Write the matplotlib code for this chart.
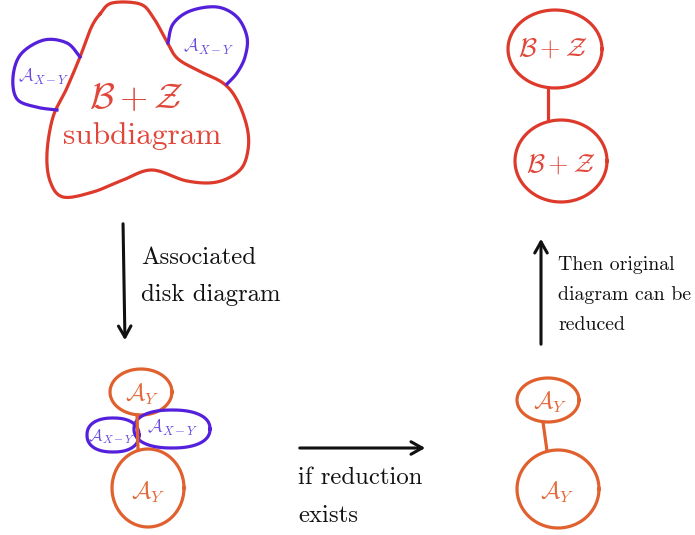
import numpy as np
import matplotlib
matplotlib.use("Agg")
import matplotlib.pyplot as plt

plt.rcParams['mathtext.fontset'] = 'cm'

RED = '#dd3a2c'
RED_T = '#e0463a'
BLUE = '#5520dc'
BLUE_T = '#6a4ae0'
ORANGE = '#e0602e'
ORANGE_T = '#e26a3a'
BLACK = '#111111'

# outline control points (pixel coordinates, y down)
big_blob = [(100, 14), (112, 3), (140, 4), (153, 17), (166, 40), (177, 58), (197, 70),
            (223, 83), (237, 100), (247, 127), (248, 150), (240, 170), (217, 182),
            (187, 181), (152, 170), (123, 180), (93, 192), (63, 197), (50, 181),
            (47, 153), (53, 117), (66, 90), (80, 57), (91, 28)]
blue_left = [(80, 57), (67, 43), (44, 40), (21, 54), (13, 77), (17, 99), (36, 107), (57, 110)]
blue_right = [(168, 43), (173, 24), (190, 11), (217, 7), (237, 17), (247, 37), (245, 57),
              (237, 73), (227, 84)]

ellipses_red = [(555, 49, 47, 39), (561, 161, 46, 41)]
ellipses_orange = [(141, 392, 31, 23), (148, 488, 36, 39), (548, 400, 31, 22), (558, 489, 41, 39)]
blue_ovals = [(113, 435, 26, 17), (172, 429, 38, 19)]

B_Z = r'$\mathcal{B}+\mathcal{Z}$'
A_XY = r'$\mathcal{A}_{X-Y}$'
A_Y = r'$\mathcal{A}_Y$'
text_assoc = ['Associated', 'disk diagram']
text_reduce = ['if reduction', 'exists']
text_then = ['Then original', 'diagram can be', 'reduced']


def catmull(points, closed=True, n=20):
    p = np.array(points, dtype=float)
    if closed:
        p = np.vstack([p[-1], p, p[0], p[1]])
    else:
        p = np.vstack([p[0], p, p[-1]])
    out = []
    for i in range(1, len(p) - 2):
        p0, p1, p2, p3 = p[i - 1], p[i], p[i + 1], p[i + 2]
        t = np.linspace(0, 1, n, endpoint=False)[:, None]
        seg = 0.5 * ((2 * p1) + (-p0 + p2) * t + (2 * p0 - 5 * p1 + 4 * p2 - p3) * t ** 2
                     + (-p0 + 3 * p1 - 3 * p2 + p3) * t ** 3)
        out.append(seg)
    out.append(p[-2][None, :] if not closed else p[1][None, :])
    return np.vstack(out)


def ellipse(cx, cy, rx, ry, power=2.0):
    th = np.linspace(0, 2 * np.pi, 300)
    cs, sn = np.cos(th), np.sin(th)
    e = 2.0 / power
    return cx + rx * np.sign(cs) * np.abs(cs) ** e, cy + ry * np.sign(sn) * np.abs(sn) ** e


fig = plt.figure(figsize=(6.95, 5.35), dpi=100)
ax = fig.add_axes([0, 0, 1, 1])
ax.set_xlim(0, 695)
ax.set_ylim(535, 0)
ax.axis('off')

lw = 2.3
c = catmull(big_blob)
ax.plot(c[:, 0], c[:, 1], color=RED, lw=lw)
c = catmull(blue_left, closed=False)
ax.plot(c[:, 0], c[:, 1], color=BLUE, lw=lw)
c = catmull(blue_right, closed=False)
ax.plot(c[:, 0], c[:, 1], color=BLUE, lw=lw)

for e in ellipses_red:
    x, y = ellipse(*e)
    ax.plot(x, y, color=RED, lw=lw)
for e in ellipses_orange:
    x, y = ellipse(*e)
    ax.plot(x, y, color=ORANGE, lw=lw)
for e in blue_ovals:
    x, y = ellipse(*e, power=2.3)
    ax.plot(x, y, color=BLUE, lw=lw)

# connectors
ax.plot([548, 548], [88, 121], color=RED, lw=lw)
ax.plot([543, 547], [422, 451], color=ORANGE, lw=lw)
ax.plot([137, 138], [415, 449], color=ORANGE, lw=lw, zorder=3)

# labels
ax.text(136, 98, B_Z, color=RED_T, fontsize=26, ha='center', va='center')
ax.text(142, 136, 'subdiagram', color=RED_T, fontsize=22.5, ha='center', va='center', family='cmr10')
ax.text(44, 77, A_XY, color=BLUE_T, fontsize=13, ha='center', va='center')
ax.text(209, 47, A_XY, color=BLUE_T, fontsize=13, ha='center', va='center')
ax.text(553, 49, B_Z, color=RED_T, fontsize=19, ha='center', va='center')
ax.text(561, 165, B_Z, color=RED_T, fontsize=19, ha='center', va='center')
ax.text(142, 394, A_Y, color=ORANGE_T, fontsize=17, ha='center', va='center')
ax.text(148, 492, A_Y, color=ORANGE_T, fontsize=17, ha='center', va='center')
ax.text(550, 402, A_Y, color=ORANGE_T, fontsize=17, ha='center', va='center')
ax.text(557, 492, A_Y, color=ORANGE_T, fontsize=17, ha='center', va='center')
ax.text(112, 437, A_XY, color=BLUE_T, fontsize=12, ha='center', va='center')
ax.text(173, 428, A_XY, color=BLUE_T, fontsize=13, ha='center', va='center')

# arrows
def arrow(x0, y0, x1, y1):
    ax.annotate('', xy=(x1, y1), xytext=(x0, y0),
                arrowprops=dict(arrowstyle='->,head_length=0.8,head_width=0.45', color=BLACK, lw=2.2))

arrow(123, 221, 125, 343)
arrow(297, 448, 428, 448)
arrow(541, 347, 541, 236)

for i, t in enumerate(text_assoc):
    ax.text(141, 258 + i * 37, t, fontsize=17.8, family='cmr10', ha='left', va='center', color=BLACK)
for i, t in enumerate(text_reduce):
    ax.text(298, 478 + i * 38, t, fontsize=17.8, family='cmr10', ha='left', va='center', color=BLACK)
for i, t in enumerate(text_then):
    ax.text(558, 265 + i * 30, t, fontsize=14.3, family='cmr10', ha='left', va='center', color=BLACK)

fig.savefig('out.png', dpi=100, facecolor='white')
